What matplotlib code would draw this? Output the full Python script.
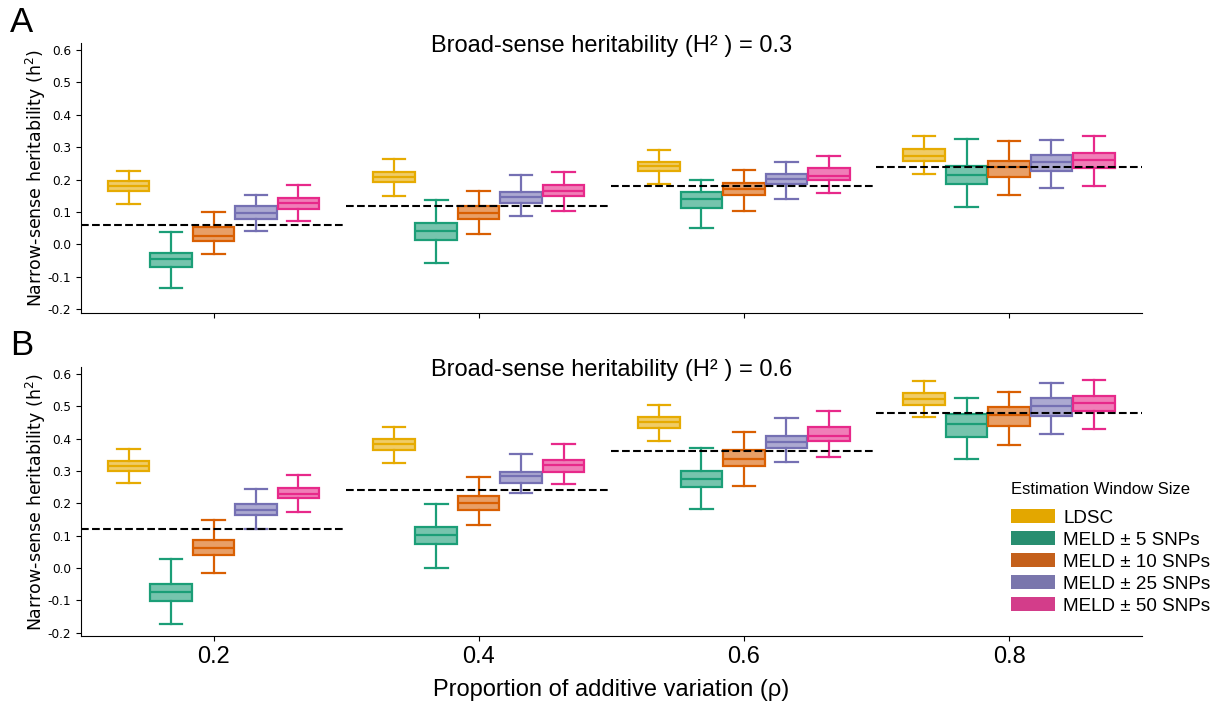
import numpy as np
import matplotlib
matplotlib.use("Agg")
import matplotlib.pyplot as plt
from matplotlib.patches import Patch
from matplotlib.ticker import MultipleLocator

# x categories and methods
rho = ["0.2", "0.4", "0.6", "0.8"]
methods = ["LDSC", "MELD \u00b1 5 SNPs", "MELD \u00b1 10 SNPs", "MELD \u00b1 25 SNPs", "MELD \u00b1 50 SNPs"]
box_colors = ["#E6AB02", "#1B9E77", "#D95F02", "#7570B3", "#E7298A"]
legend_colors = ["#E3A700", "#288E70", "#C4601B", "#7A76AC", "#D33D8A"]

# true narrow-sense heritability (dashed lines)
true_A = [0.06, 0.12, 0.18, 0.24]
true_B = [0.12, 0.24, 0.36, 0.48]

# panel A (H2 = 0.3): rows = methods, cols = rho
A_hi = [[0.227, 0.263, 0.292, 0.335],
        [0.038, 0.138, 0.198, 0.325],
        [0.100, 0.164, 0.229, 0.320],
        [0.153, 0.214, 0.255, 0.323],
        [0.182, 0.224, 0.272, 0.333]]
A_q3 = [[0.195, 0.224, 0.255, 0.293],
        [-0.026, 0.067, 0.163, 0.242],
        [0.053, 0.119, 0.189, 0.258],
        [0.117, 0.163, 0.218, 0.276],
        [0.144, 0.184, 0.234, 0.283]]
A_med = [[0.181, 0.208, 0.242, 0.273],
         [-0.046, 0.041, 0.139, 0.215],
         [0.027, 0.098, 0.172, 0.240],
         [0.098, 0.145, 0.202, 0.254],
         [0.128, 0.166, 0.212, 0.259]]
A_q1 = [[0.165, 0.191, 0.227, 0.257],
        [-0.070, 0.015, 0.112, 0.186],
        [0.012, 0.077, 0.152, 0.209],
        [0.078, 0.128, 0.185, 0.226],
        [0.110, 0.148, 0.199, 0.235]]
A_lo = [[0.126, 0.150, 0.187, 0.218],
        [-0.133, -0.058, 0.050, 0.114],
        [-0.028, 0.031, 0.104, 0.153],
        [0.043, 0.088, 0.139, 0.173],
        [0.072, 0.104, 0.159, 0.181]]

# panel B (H2 = 0.6)
B_hi = [[0.367, 0.437, 0.502, 0.579],
        [0.027, 0.197, 0.371, 0.526],
        [0.149, 0.281, 0.420, 0.545],
        [0.243, 0.351, 0.464, 0.571],
        [0.287, 0.384, 0.486, 0.582]]
B_q3 = [[0.330, 0.398, 0.465, 0.542],
        [-0.048, 0.127, 0.299, 0.476],
        [0.086, 0.223, 0.363, 0.498],
        [0.197, 0.298, 0.409, 0.524],
        [0.247, 0.334, 0.435, 0.532]]
B_med = [[0.316, 0.382, 0.450, 0.522],
         [-0.073, 0.102, 0.275, 0.444],
         [0.063, 0.201, 0.337, 0.474],
         [0.180, 0.284, 0.390, 0.499],
         [0.230, 0.318, 0.408, 0.509]]
B_q1 = [[0.301, 0.366, 0.434, 0.505],
        [-0.101, 0.073, 0.250, 0.405],
        [0.040, 0.178, 0.315, 0.440],
        [0.163, 0.263, 0.372, 0.471],
        [0.215, 0.298, 0.393, 0.486]]
B_lo = [[0.262, 0.324, 0.391, 0.466],
        [-0.174, 0.000, 0.183, 0.336],
        [-0.015, 0.133, 0.253, 0.380],
        [0.122, 0.231, 0.328, 0.413],
        [0.172, 0.260, 0.343, 0.430]]

sans = "Liberation Sans"
width = 0.16


def draw_panel(ax, hi, q3, med, q1, lo, truth, title):
    for j, col in enumerate(box_colors):
        stats = []
        for i in range(len(rho)):
            stats.append(dict(whislo=lo[j][i], q1=q1[j][i], med=med[j][i],
                              q3=q3[j][i], whishi=hi[j][i], fliers=[]))
        pos = [i + (j - 2) * width for i in range(len(rho))]
        ax.bxp(stats, positions=pos, widths=width * 0.98, patch_artist=True,
               showfliers=False, capwidths=width * 0.53, manage_ticks=False,
               boxprops=dict(facecolor=matplotlib.colors.to_rgba(col, 0.6), edgecolor=col, linewidth=1.6),
               medianprops=dict(color=col, linewidth=1.6),
               whiskerprops=dict(color=col, linewidth=1.6),
               capprops=dict(color=col, linewidth=1.6))
    for i, t in enumerate(truth):
        ax.plot([i - 0.5, i + 0.5], [t, t], ls="--", color="black", lw=1.5, zorder=5)
    ax.set_xlim(-0.5, 3.5)
    ax.set_ylim(-0.21, 0.62)
    ax.yaxis.set_major_locator(MultipleLocator(0.1))
    ax.yaxis.set_major_formatter(matplotlib.ticker.FormatStrFormatter("%.1f"))
    ax.tick_params(axis="y", labelsize=8.7)
    ax.set_xticks(range(len(rho)))
    ax.spines["top"].set_visible(False)
    ax.spines["right"].set_visible(False)
    ax.set_ylabel("Narrow-sense heritability (h$^2$)", fontsize=12.5, labelpad=-0.5)
    ax.text(0.5, 0.99, title, transform=ax.transAxes, ha="center", va="center",
            fontsize=17, family=sans)


fig = plt.figure(figsize=(12.21, 7.07), dpi=100)
axA = fig.add_axes([0.0663, 0.5577, 0.8687, 0.3813])
axB = fig.add_axes([0.0663, 0.1004, 0.8687, 0.3801])

draw_panel(axA, A_hi, A_q3, A_med, A_q1, A_lo, true_A, "Broad-sense heritability (H\u00b2 ) = 0.3")
draw_panel(axB, B_hi, B_q3, B_med, B_q1, B_lo, true_B, "Broad-sense heritability (H\u00b2 ) = 0.6")

axA.set_xticklabels([])
axB.set_xticklabels(rho, fontsize=17, family=sans)
axB.set_xlabel("Proportion of additive variation (\u03c1)", fontsize=17, family=sans, labelpad=8)

fig.text(0.018, 0.968, "A", fontsize=25, family=sans, va="center", ha="center")
fig.text(0.018, 0.512, "B", fontsize=25, family=sans, va="center", ha="center")

# legend title drawn separately to match spacing
fig.text(0.828, 1 - 489 / 707, "Estimation Window Size", fontsize=12, family=sans,
         ha="left", va="center")
handles = [Patch(facecolor=c, edgecolor="none", label=m) for c, m in zip(legend_colors, methods)]
leg = fig.legend(handles=handles, loc="upper left", bbox_to_anchor=(0.8205, 0.2933),
                 frameon=False, borderpad=0,
                 prop=dict(family=sans, size=13.6), handlelength=2.3, handleheight=0.75,
                 labelspacing=0.24, handletextpad=0.45)

fig.savefig("out.png", dpi=100)
